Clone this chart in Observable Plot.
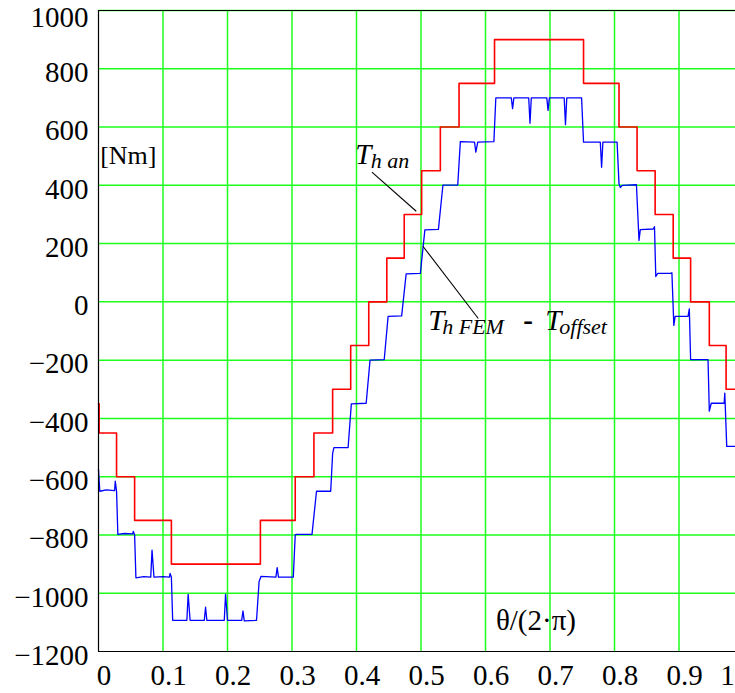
<!DOCTYPE html>
<html><head><meta charset="utf-8">
<script src="https://cdn.jsdelivr.net/npm/d3@7"></script>
<script src="https://cdn.jsdelivr.net/npm/@observablehq/plot@0.6"></script>
<style>
html,body{margin:0;padding:0;background:#fff;overflow:hidden;width:735px;height:693px}
#chart svg{display:block;overflow:hidden}
#chart svg, #chart svg text, #chart svg g{font-family:'Liberation Serif','Times New Roman',serif !important}
</style>
</head><body><div id="chart"></div>
<script>
// Tick values
const xTicks = [0, 0.1, 0.2, 0.3, 0.4, 0.5, 0.6, 0.7, 0.8, 0.9, 1];
const yTicks = [-1200, -1000, -800, -600, -400, -200, 0, 200, 400, 600, 800, 1000];

// T_h an (staircase, step-after)
const anX = [0, 0.001, 0.028, 0.056, 0.113, 0.251, 0.305, 0.334, 0.363, 0.391, 0.419, 0.447, 0.474, 0.501, 0.530, 0.559, 0.614, 0.752, 0.807, 0.835, 0.863, 0.891, 0.918, 0.947, 0.973, 0.99];
const anY = [-350, -450, -600, -750, -900, -750, -600, -450, -300, -150, 0, 150, 300, 450, 600, 750, 900, 750, 600, 450, 300, 150, 0, -150, -300, -300];

// T_h FEM - T_offset (polyline)
const femX = [0, 0.002, 0.012, 0.025, 0.026, 0.028, 0.030, 0.040, 0.053, 0.054, 0.056, 0.058, 0.070, 0.081, 0.083, 0.086, 0.100, 0.110, 0.111, 0.113, 0.115,
  0.137, 0.139, 0.142, 0.164, 0.166, 0.168, 0.195, 0.197, 0.200, 0.222, 0.224, 0.226, 0.245, 0.249, 0.252, 0.275, 0.277, 0.279, 0.302, 0.305, 0.307, 0.331,
  0.338, 0.360, 0.363, 0.365, 0.387, 0.392, 0.415, 0.421, 0.443, 0.449, 0.470, 0.477, 0.499, 0.506, 0.527, 0.534, 0.557, 0.561, 0.583, 0.585, 0.588,
  0.613, 0.616, 0.640, 0.642, 0.644, 0.667, 0.669, 0.671, 0.695, 0.697, 0.699, 0.722, 0.724, 0.726, 0.749, 0.752, 0.778, 0.780, 0.782, 0.804,
  0.807, 0.809, 0.812, 0.834, 0.838, 0.840, 0.860, 0.862, 0.864, 0.867, 0.887, 0.889, 0.892, 0.894, 0.914, 0.916, 0.918, 0.945, 0.947, 0.950,
  0.970, 0.971, 0.974, 0.99];
const femY = [-575, -650, -645, -648, -615, -650, -798, -795, -796, -788, -800, -947, -943, -945, -852, -945, -943, -945, -932, -945, -1093,
  -1093, -1004, -1093, -1093, -1048, -1093, -1093, -1004, -1093, -1093, -1061, -1095, -1093, -960, -942, -945, -912, -945, -945, -800, -798, -798,
  -650, -650, -520, -500, -500, -350, -348, -200, -198, -50, -48, 96, 98, 247, 249, 401, 401, 550, 548, 514, 548,
  550, 700, 700, 663, 700, 700, 613, 700, 700, 657, 700, 700, 608, 700, 700, 548, 548, 462, 548, 548,
  405, 392, 400, 402, 211, 248, 250, 258, 87, 98, 98, 100, -81, -50, -50, -24, -198, -198, -375, -348,
  -348, -313, -496, -496];

// Annotation texts and their anchor points (data coordinates)
const labelTexts = ["[Nm]", "θ/(2·π)"];
const labelX = [0.0026, 0.6782];
const labelY = [503, -1093];

const anLabelParts = ["T", "h an"];
const anLabelX = [0.398, 0.4221];
const anLabelY = [506, 484];

const femLabelParts = ["T", "h FEM", "-", "T", "offset"];
const femLabelX = [0.5112, 0.5329, 0.6586, 0.6927, 0.7144];
const femLabelY = [-64, -86, -64, -64, -86];

const leaderX1 = [0.4239, 0.503];
const leaderY1 = [445, 191];
const leaderX2 = [0.4926, 0.5888];
const leaderY2 = [311, -57];

const an = anX.map((x, i) => ({x, y: anY[i]}));
const fem = femX.map((x, i) => ({x, y: femY[i]}));
const labels = labelTexts.map((t, i) => ({t, x: labelX[i], y: labelY[i]}));
const anParts = anLabelParts.map((t, i) => ({t, x: anLabelX[i], y: anLabelY[i], big: i === 0}));
const femParts = femLabelParts.map((t, i) => ({t, x: femLabelX[i], y: femLabelY[i], big: !(t === "h FEM" || t === "offset")}));
const leaders = leaderX1.map((x1, i) => ({x1, y1: leaderY1[i], x2: leaderX2[i], y2: leaderY2[i]}));
const subParts = [...anParts, ...femParts];

const serif = "'Liberation Serif', 'Times New Roman', serif";
const green = "#1cff1c";
const fmt = d => d < 0 ? "\u2212" + Math.abs(d) : String(d);

const chart = Plot.plot({
  width: 735, height: 693,
  marginLeft: 98, marginRight: -8, marginTop: 10, marginBottom: 42,
  x: {domain: [0, 1]},
  y: {domain: [-1200, 1000]},
  style: {fontFamily: serif, background: "#fff", overflow: "hidden", color: "#000"},
  marks: [
    Plot.ruleX(xTicks.slice(1, -1), {stroke: green, strokeWidth: 1.5}),
    Plot.ruleY(yTicks.slice(1), {stroke: green, strokeWidth: 1.5}),
    Plot.line(an, {x: "x", y: "y", curve: "step-after", stroke: "#ff0000", strokeWidth: 1.6}),
    Plot.line(fem, {x: "x", y: "y", stroke: "#0000ff", strokeWidth: 1.3}),
    Plot.ruleX([0], {stroke: "#000", strokeWidth: 1.2}),
    Plot.ruleY([-1200, 1000], {stroke: "#000", strokeWidth: 1.2}),
    Plot.axisX(xTicks.slice(0, -1), {tickSize: 0, tickPadding: 13, fontSize: 29, fontFamily: serif, dx: 5.5, tickFormat: d => String(d), label: null}),
    Plot.axisX(xTicks.slice(-1), {tickSize: 0, tickPadding: 13, fontSize: 29, fontFamily: serif, dx: -16, tickFormat: d => String(d), label: null}),
    Plot.axisY(yTicks.slice(0, -1), {tickSize: 0, tickPadding: 10, fontSize: 29, fontFamily: serif, dy: 4, tickFormat: fmt, label: null}),
    Plot.axisY(yTicks.slice(-1), {tickSize: 0, tickPadding: 10, fontSize: 29, fontFamily: serif, dy: 7, tickFormat: fmt, label: null}),
    Plot.text(labels.slice(0, 1), {x: "x", y: "y", text: "t", textAnchor: "start", fontSize: 26, fontFamily: serif}),
    Plot.text(labels.slice(1), {x: "x", y: "y", text: "t", textAnchor: "middle", fontSize: 29, fontFamily: serif}),
    Plot.text(subParts.filter(d => d.big && d.t !== "-"), {x: "x", y: "y", text: "t", textAnchor: "start", fontSize: 29, fontStyle: "italic", fontFamily: serif}),
    Plot.text(subParts.filter(d => d.t === "-"), {x: "x", y: "y", text: "t", textAnchor: "start", fontSize: 29, fontWeight: "bold", fontFamily: serif}),
    Plot.text(subParts.filter(d => !d.big), {x: "x", y: "y", text: "t", textAnchor: "start", fontSize: 22, fontStyle: "italic", fontFamily: serif}),
    Plot.link(leaders, {x1: "x1", y1: "y1", x2: "x2", y2: "y2", stroke: "#000", strokeWidth: 1.1})
  ]
});
document.getElementById("chart").appendChild(chart);
</script>
</body></html>
